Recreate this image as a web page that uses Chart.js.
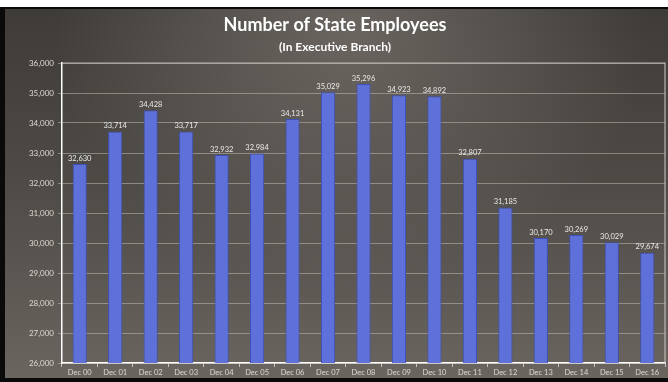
<!DOCTYPE html>
<html lang="en">
<head>
    <meta charset="UTF-8">
    <title>Number of State Employees</title>
    <script src="https://cdn.jsdelivr.net/npm/chart.js"></script>
    <style>
        body {
            margin: 0;
            background-color: #ffffff;
            width: 668px;
            height: 382px;
            overflow: hidden;
        }
        .frame {
            position: absolute;
            left: 0;
            top: 7px;
            width: 668px;
            height: 375px;
            background-color: #0a0a0a;
        }
        .chart-container {
            position: absolute;
            left: 5px;
            top: 2px;
            width: 663px;
            height: 369px;
            background:
                radial-gradient(ellipse 45% 70% at 52% 5%, rgba(140,133,126,0.55), rgba(140,133,126,0) 100%),
                linear-gradient(180deg, #3f3c38 0%, #4d4945 45%, #6a655f 100%);
        }
    </style>
</head>
<body>
    <div class="frame">
        <div class="chart-container">
            <canvas id="employeesChart"></canvas>
        </div>
    </div>

    <script>
        const years = ['Dec 00', 'Dec 01', 'Dec 02', 'Dec 03', 'Dec 04', 'Dec 05', 'Dec 06', 'Dec 07', 'Dec 08',
                       'Dec 09', 'Dec 10', 'Dec 11', 'Dec 12', 'Dec 13', 'Dec 14', 'Dec 15', 'Dec 16'];
        const employees = [32630, 33714, 34428, 33717, 32932, 32984, 34131, 35029, 35296,
                           34923, 34892, 32807, 31185, 30170, 30269, 30029, 29674];
        const yMin = 26000;
        const yMax = 36000;
        const yStep = 1000;

        const fmt = v => v.toLocaleString('en-US');

        // value labels above each bar
        const barLabels = {
            id: 'barLabels',
            afterDatasetsDraw(chart) {
                const ctx = chart.ctx;
                const meta = chart.getDatasetMeta(0);
                ctx.save();
                ctx.font = '7.5px Lato, sans-serif';
                ctx.fillStyle = '#ecebe8';
                ctx.textAlign = 'center';
                ctx.textBaseline = 'bottom';
                meta.data.forEach((bar, i) => {
                    ctx.fillText(fmt(employees[i]), bar.x, bar.y - 2);
                });
                ctx.restore();
            }
        };

        // light frame on top and right of the plot area
        const plotFrame = {
            id: 'plotFrame',
            beforeDatasetsDraw(chart) {
                const { ctx, chartArea: a } = chart;
                ctx.save();
                ctx.strokeStyle = 'rgba(205,200,195,0.85)';
                ctx.lineWidth = 1.2;
                ctx.beginPath();
                ctx.moveTo(a.left, a.top);
                ctx.lineTo(a.right, a.top);
                ctx.lineTo(a.right, a.bottom);
                ctx.stroke();
                ctx.restore();
            }
        };

        const ctx = document.getElementById('employeesChart').getContext('2d');
        const chart = new Chart(ctx, {
            type: 'bar',
            data: {
                labels: years,
                datasets: [{
                    data: employees,
                    backgroundColor: '#5e71da',
                    borderColor: '#3f50bb',
                    borderWidth: 1,
                    categoryPercentage: 1.0,
                    barPercentage: 0.4
                }]
            },
            options: {
                responsive: true,
                maintainAspectRatio: false,
                animation: false,
                devicePixelRatio: 1,
                layout: {
                    padding: { left: 0, right: 3, top: 0, bottom: 0 }
                },
                plugins: {
                    legend: { display: false },
                    tooltip: { enabled: false },
                    title: {
                        display: true,
                        text: 'Number of State Employees',
                        color: '#ffffff',
                        font: { family: 'Lato', size: 18, weight: 'bold' },
                        padding: { top: 5, bottom: 0 }
                    },
                    subtitle: {
                        display: true,
                        text: '(In Executive Branch)',
                        color: '#ffffff',
                        font: { family: 'Lato', size: 12, weight: 'bold' },
                        padding: { top: 4, bottom: 9 }
                    }
                },
                scales: {
                    x: {
                        afterFit: scale => { scale.height = 15; },
                        grid: {
                            drawOnChartArea: false,
                            drawTicks: true,
                            tickLength: 4,
                            color: 'rgba(220,215,210,0.8)'
                        },
                        border: { color: '#ffffff', width: 1.5 },
                        ticks: {
                            color: 'rgba(225,220,215,0.95)',
                            font: { family: 'Lato', size: 7.5 },
                            padding: 1,
                            maxRotation: 0,
                            autoSkip: false
                        }
                    },
                    y: {
                        min: yMin,
                        max: yMax,
                        afterFit: scale => { scale.width = 57; },
                        grid: {
                            color: 'rgba(190,185,178,0.55)',
                            lineWidth: 1,
                            tickLength: 4
                        },
                        border: { color: '#ffffff', width: 1.5 },
                        ticks: {
                            stepSize: yStep,
                            color: 'rgba(225,220,215,0.95)',
                            font: { family: 'Lato', size: 8 },
                            padding: 4,
                            callback: v => fmt(v)
                        }
                    }
                }
            },
            plugins: [barLabels, plotFrame]
        });
    </script>
</body>
</html>
